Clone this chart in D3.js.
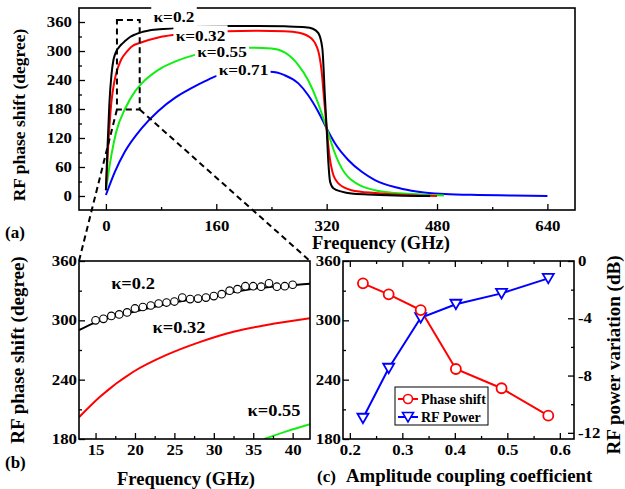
<!DOCTYPE html>
<html>
<head>
<meta charset="utf-8">
<script src="https://cdn.jsdelivr.net/npm/d3@7"></script>
<style>
  body { margin: 0; background: #fff; }
  text { font-family: "Liberation Serif", "Times New Roman", serif; font-weight: bold; fill: #000; }
</style>
</head>
<body>
<script>
// ---- panel (a): phase shift over the full band, one curve per kappa
const kappaLabels = ["κ=0.2", "κ=0.32", "κ=0.55", "κ=0.71"];

const freqK020 = [0, 2, 5, 8, 11, 13, 15, 18, 22, 28, 35, 42, 52, 70, 97, 130, 175, 220, 259, 289, 300, 308, 313.7, 317.6, 320, 322.4, 324.9, 329.7, 341.8, 356, 380, 420, 470];
const phaseK020 = [12, 90, 190, 250, 282, 292, 299, 306, 313, 321, 329, 334, 339, 344, 347, 350, 352, 352, 351, 349, 346, 337, 306, 202, 140, 71, 30, 16, 9, 5, 3, 1, 0];

const freqK032 = [0, 3.4, 8, 12, 15, 22, 30, 37, 52, 76, 97, 130, 175, 220, 259, 280, 298, 308, 312.8, 316.6, 320, 323.9, 328.3, 337, 356, 390, 420, 450, 480];
const phaseK032 = [12, 105, 195, 235, 254, 282, 298, 309, 318, 328, 333, 337, 341, 342, 341, 338, 326, 299, 257, 195, 140, 85, 50, 26, 12, 6, 3, 1, 0];

const freqK055 = [0, 4, 8, 15, 28, 42, 52, 76, 100, 129, 165, 208, 240, 259, 279, 293, 305.5, 313, 319, 325, 331, 338, 346, 356, 370, 390, 420, 443, 470, 490];
const phaseK055 = [12, 50, 85, 133, 181, 216, 233, 261, 278, 292, 301, 307, 305, 297, 271, 240, 200, 170, 145, 118, 92, 68, 48, 33, 21, 12, 6, 4, 2, 1];

const freqK071 = [0, 13, 27.6, 51.7, 76, 100, 124, 143, 160, 200, 238, 259, 279, 293, 308, 321, 332, 351.6, 370.9, 390, 420, 443, 491, 540, 590, 640];
const phaseK071 = [2, 50, 92, 140, 176, 203, 223, 237, 248, 257, 257, 250, 233, 209, 174, 137, 109, 74, 50, 33, 18, 11, 4, 2, 1, 0];

// dashed zoom window drawn on (a)
const zoomFreq = [16, 49];
const zoomPhase = [179, 364];

// ---- panel (b): close-up 13-42 GHz
const bFreqK020 = [12.9, 15, 18, 20, 25, 30, 35, 40, 42.2];
const bPhaseK020 = [290, 298, 305, 309, 318, 325, 332, 335.5, 337];
const bFreqK032 = [12.9, 15.6, 19.8, 24, 28.2, 32.5, 36.7, 42.2];
const bPhaseK032 = [202, 223, 248, 265, 278, 288.5, 295.3, 302];
const bFreqK055 = [36.4, 39.3, 42.2];
const bPhaseK055 = [180, 188, 195];
// measured points (circles)
const measFreq = [15, 16, 17, 18, 19, 20, 21, 22, 23, 24, 25, 26, 27, 28, 29, 30, 31, 32, 33, 34, 35, 36, 37, 38, 39, 40];
const measPhase = [300, 301.5, 304.5, 306, 308, 312, 313.5, 315, 317, 318, 319, 323, 321.5, 322, 323, 324.5, 326.5, 330, 331.5, 334.5, 334.5, 334, 337.5, 334, 334.5, 336];

// ---- panel (c): vs amplitude coupling coefficient
const couplingCoeff = [0.225, 0.274, 0.335, 0.402, 0.489, 0.578];
const phaseShift = [337.4, 326.3, 310.4, 250.8, 231.3, 203.6];
const rfPower = [-10.98, -7.49, -3.96, -3.02, -2.26, -1.21];

const width = 625, height = 489;
const colors = ["#000000", "#ff0000", "#11ee11", "#0000ff"];

const svg = d3.select("body").append("svg")
  .attr("width", width)
  .attr("height", height);
svg.append("rect").attr("width", width).attr("height", height).attr("fill", "#fff");

function zip(xs, ys) { return xs.map((x, i) => [x, ys[i]]); }

// inward ticks, major + minor; labels a bit wide like the original
function axis(g, orient, scale, majors, minors, pos, pad, fmt, stretch) {
  const make = { bottom: d3.axisBottom, top: d3.axisTop, left: d3.axisLeft, right: d3.axisRight }[orient];
  const tr = (orient === "bottom" || orient === "top") ? `translate(0,${pos})` : `translate(${pos},0)`;
  const major = g.append("g").attr("transform", tr)
    .call(make(scale).tickValues(majors).tickSize(-6).tickSizeOuter(0).tickPadding(pad)
      .tickFormat(fmt || (d => String(d))));
  const minor = g.append("g").attr("transform", tr)
    .call(make(scale).tickValues(minors).tickSize(-3).tickSizeOuter(0).tickFormat(""));
  [major, minor].forEach(a => {
    a.select(".domain").remove();
    a.selectAll("line").attr("stroke", "#000").attr("stroke-width", 1.3);
  });
  major.selectAll("text").style("font-size", "14px").each(function () {
    const t = d3.select(this);
    const x = +t.attr("x") || 0;
    t.attr("x", 0).attr("transform", `translate(${x},0) scale(${stretch || 1.2},1)`);
  });
}

function frame(g, x0, y0, x1, y1) {
  g.append("rect").attr("x", x0).attr("y", y0).attr("width", x1 - x0).attr("height", y1 - y0)
    .attr("fill", "none").attr("stroke", "#000").attr("stroke-width", 1.6);
}

function label(g, txt, x, y, size, bg) {
  const t = g.append("text").attr("x", 0).attr("y", 0).attr("dy", "0.35em")
    .attr("text-anchor", "middle")
    .attr("transform", `translate(${x},${y}) scale(1.15,1)`)
    .style("font-size", size + "px").text(txt);
  if (bg) {
    const b = t.node().getBBox();
    g.insert("rect", function () { return t.node(); })
      .attr("x", x + (b.x - 2) * 1.15).attr("y", y + b.y - 2.5)
      .attr("width", (b.width + 4) * 1.15).attr("height", b.height + 5)
      .attr("fill", "#fff");
  }
  return t;
}

function vtitle(x, y, txt, size) {
  svg.append("text").attr("transform", `translate(${x},${y}) rotate(-90)`)
    .attr("text-anchor", "middle").style("font-size", size + "px").text(txt);
}

function htitle(x, y, txt, size, anchor) {
  svg.append("text").attr("x", x).attr("y", y).attr("text-anchor", anchor || "middle")
    .style("font-size", size + "px").text(txt);
}

// ================= panel (a)
const ax = d3.scaleLinear().domain([-39, 680]).range([79, 575]);
const ay = d3.scaleLinear().domain([-29, 389]).range([210, 8]);
const ga = svg.append("g");

const lineA = d3.line().x(d => ax(d[0])).y(d => ay(d[1])).curve(d3.curveMonotoneX);
const curvesA = [zip(freqK020, phaseK020), zip(freqK032, phaseK032), zip(freqK055, phaseK055), zip(freqK071, phaseK071)];
[3, 2, 1, 0].forEach(i => {
  ga.append("path").attr("d", lineA(curvesA[i])).attr("fill", "none")
    .attr("stroke", colors[i]).attr("stroke-width", 2);
});

axis(ga, "bottom", ax, [0, 160, 320, 480, 640], [80, 240, 400, 560], 210, 11);
axis(ga, "left", ay, d3.range(0, 361, 60), d3.range(30, 331, 60), 79, 7);
frame(ga, 79, 8, 575, 210);

label(ga, kappaLabels[0], 174, 17, 15, true);
label(ga, kappaLabels[1], 200.5, 35.5, 15, true);
label(ga, kappaLabels[2], 222, 51.5, 15, true);
label(ga, kappaLabels[3], 243.5, 69.5, 15, true);

// ================= panel (b)
const bx = d3.scaleLinear().domain([12.9, 42.2]).range([79, 310]);
const by = d3.scaleLinear().domain([180, 360]).range([439, 261]);
const gb = svg.append("g");
gb.append("clipPath").attr("id", "clipb").append("rect")
  .attr("x", 79).attr("y", 261).attr("width", 231).attr("height", 178);

const lineB = d3.line().x(d => bx(d[0])).y(d => by(d[1])).curve(d3.curveMonotoneX);
const curvesB = [zip(bFreqK020, bPhaseK020), zip(bFreqK032, bPhaseK032), zip(bFreqK055, bPhaseK055)];
const cb = gb.append("g").attr("clip-path", "url(#clipb)");
[2, 1, 0].forEach(i => {
  cb.append("path").attr("d", lineB(curvesB[i])).attr("fill", "none")
    .attr("stroke", colors[i]).attr("stroke-width", 2);
});
cb.selectAll("circle").data(zip(measFreq, measPhase)).enter().append("circle")
  .attr("cx", d => bx(d[0])).attr("cy", d => by(d[1])).attr("r", 3.8)
  .attr("fill", "#fff").attr("stroke", "#000").attr("stroke-width", 1.1);

axis(gb, "bottom", bx, [15, 20, 25, 30, 35, 40], [17.5, 22.5, 27.5, 32.5, 37.5], 439, 6);
axis(gb, "left", by, [180, 240, 300, 360], [210, 270, 330], 79, 2);
frame(gb, 79, 261, 310, 439);

label(gb, kappaLabels[0], 133, 283, 16, false);
label(gb, kappaLabels[1], 179, 327, 16, false);
label(gb, kappaLabels[2], 274, 410, 16, false);

// ================= panel (c)
const cx = d3.scaleLinear().domain([0.187, 0.627]).range([343, 574]);
const cyL = d3.scaleLinear().domain([180, 360]).range([439, 261]);
const cyR = d3.scaleLinear().domain([-12.43, 0]).range([439, 261]);
const gc = svg.append("g");

const powerPts = zip(couplingCoeff, rfPower);
const phasePts = zip(couplingCoeff, phaseShift);
gc.append("path").attr("d", d3.line().x(d => cx(d[0])).y(d => cyR(d[1]))(powerPts))
  .attr("fill", "none").attr("stroke", colors[3]).attr("stroke-width", 2);
gc.append("path").attr("d", d3.line().x(d => cx(d[0])).y(d => cyL(d[1]))(phasePts))
  .attr("fill", "none").attr("stroke", colors[1]).attr("stroke-width", 2);

function triDown(x, y) {
  return `M${x - 5.5},${y - 4.5}L${x + 5.5},${y - 4.5}L${x},${y + 5}Z`;
}
gc.selectAll(".tri").data(powerPts).enter().append("path").attr("class", "tri")
  .attr("d", d => triDown(cx(d[0]), cyR(d[1])))
  .attr("fill", "#fff").attr("stroke", colors[3]).attr("stroke-width", 1.8);
gc.selectAll(".circ").data(phasePts).enter().append("circle").attr("class", "circ")
  .attr("cx", d => cx(d[0])).attr("cy", d => cyL(d[1])).attr("r", 5)
  .attr("fill", "#fff").attr("stroke", colors[1]).attr("stroke-width", 1.8);

const cMaj = [0.2, 0.3, 0.4, 0.5, 0.6], cMin = [0.25, 0.35, 0.45, 0.55];
axis(gc, "bottom", cx, cMaj, cMin, 439, 6, d3.format(".1f"));
axis(gc, "top", cx, cMaj, cMin, 261, 3, () => "");
axis(gc, "left", cyL, [180, 240, 300, 360], [210, 270, 330], 343, 2);
axis(gc, "right", cyR, [0, -4, -8, -12], [-2, -6, -10], 574, 4);
frame(gc, 343, 261, 574, 439);

// legend
const lg = gc.append("g");
lg.append("rect").attr("x", 395).attr("y", 387).attr("width", 93).attr("height", 38)
  .attr("fill", "#fff").attr("stroke", "#000").attr("stroke-width", 1);
lg.append("line").attr("x1", 398).attr("x2", 418).attr("y1", 399).attr("y2", 399)
  .attr("stroke", colors[1]).attr("stroke-width", 2);
lg.append("circle").attr("cx", 408).attr("cy", 399).attr("r", 4.5)
  .attr("fill", "#fff").attr("stroke", colors[1]).attr("stroke-width", 1.6);
lg.append("text").attr("x", 421).attr("y", 404).style("font-size", "14px").text("Phase shift");
lg.append("line").attr("x1", 398).attr("x2", 418).attr("y1", 417).attr("y2", 417)
  .attr("stroke", colors[3]).attr("stroke-width", 2);
lg.append("path").attr("d", triDown(408, 417))
  .attr("fill", "#fff").attr("stroke", colors[3]).attr("stroke-width", 1.6);
lg.append("text").attr("x", 421).attr("y", 422).style("font-size", "14px").text("RF Power");

// ================= dashed zoom window and connectors (on top)
const dash = svg.append("g").attr("fill", "none").attr("stroke", "#000")
  .attr("stroke-width", 2).attr("stroke-dasharray", "6,4");
dash.append("rect")
  .attr("x", ax(zoomFreq[0])).attr("y", ay(zoomPhase[1]))
  .attr("width", ax(zoomFreq[1]) - ax(zoomFreq[0]))
  .attr("height", ay(zoomPhase[0]) - ay(zoomPhase[1]));
dash.append("line").attr("x1", ax(zoomFreq[0])).attr("y1", ay(zoomPhase[0]))
  .attr("x2", bx(bx.domain()[0])).attr("y2", by(by.domain()[1]));
dash.append("line").attr("x1", ax(zoomFreq[1])).attr("y1", ay(zoomPhase[0]))
  .attr("x2", bx(bx.domain()[1])).attr("y2", by(by.domain()[1]));

// ================= titles
vtitle(25, 115, "RF phase shift (degree)", 17.5);
vtitle(24, 350, "RF phase shift (degree)", 19);
vtitle(620, 355, "RF power variation (dB)", 19);
htitle(381, 249, "Frequency (GHz)", 18.5);
htitle(186, 485, "Frequency (GHz)", 18.5);
htitle(5, 238, "(a)", 17, "start");
htitle(5, 468, "(b)", 17, "start");
htitle(317, 482, "(c)", 17, "start");
htitle(346, 482, "Amplitude coupling coefficient", 18.8, "start");
</script>
</body>
</html>
